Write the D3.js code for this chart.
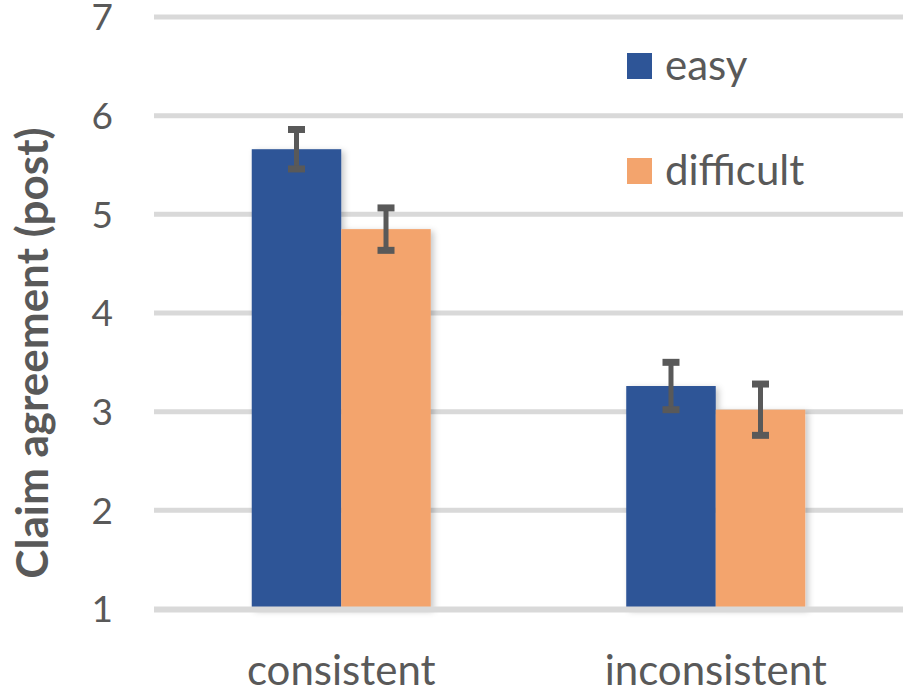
<!DOCTYPE html>
<html><head><meta charset="utf-8">
<script src="https://cdn.jsdelivr.net/npm/d3@7"></script>
<style>body{margin:0;background:#fff}svg{display:block}text{font-family:Lato,"Open Sans",sans-serif;fill:#595959}</style>
</head><body>
<svg id="chart" width="909" height="693"></svg>
<script>
const categories = ["consistent", "inconsistent"];
const seriesNames = ["easy", "difficult"];
const easyValues = [5.66, 3.26];
const difficultValues = [4.85, 3.02];
const easyErrors = [0.20, 0.24];
const difficultErrors = [0.215, 0.26];
const yTicks = [1, 2, 3, 4, 5, 6, 7];
const colors = ["#2E5597", "#F3A46D"];

const svg = d3.select("#chart");
const defs = svg.append("defs");
const f = defs.append("filter").attr("id","sh").attr("x","-20%").attr("y","-20%").attr("width","150%").attr("height","150%");
f.append("feDropShadow").attr("dx",3).attr("dy",2).attr("stdDeviation",3).attr("flood-color","#000").attr("flood-opacity",0.22);

const y = d3.scaleLinear().domain([1,7]).range([609,17]);
const x = d3.scaleBand().domain(categories).range([154,903]).padding(0);
const xs = d3.scaleBand().domain(seriesNames).range([0,x.bandwidth()]).paddingInner(0).paddingOuter(1.092);
const color = d3.scaleOrdinal().domain(seriesNames).range(colors);

const data = [];
categories.forEach((c,i)=>{
  data.push({cat:c, s:"easy", v:easyValues[i], e:easyErrors[i]});
  data.push({cat:c, s:"difficult", v:difficultValues[i], e:difficultErrors[i]});
});

// gridlines
svg.append("g").selectAll("line").data(yTicks.filter(t=>t>1)).join("line")
  .attr("x1",154).attr("x2",903).attr("y1",d=>y(d)).attr("y2",d=>y(d))
  .attr("stroke","#d9d9d9").attr("stroke-width",5);

// bars
svg.append("g").attr("filter","url(#sh)").selectAll("rect").data(data).join("rect")
  .attr("x",d=>x(d.cat)+xs(d.s)).attr("width",xs.bandwidth())
  .attr("y",d=>y(d.v)).attr("height",d=>y(1)-y(d.v))
  .attr("fill",d=>color(d.s));

// baseline
svg.append("line").attr("x1",154).attr("x2",903).attr("y1",y(1)+0.5).attr("y2",y(1)+0.5)
  .attr("stroke","#d9d9d9").attr("stroke-width",6);

// error bars
const eg = svg.append("g").attr("stroke","#595959");
data.forEach(d=>{
  const cx = x(d.cat)+xs(d.s)+xs.bandwidth()/2;
  eg.append("line").attr("x1",cx).attr("x2",cx).attr("y1",y(d.v+d.e)).attr("y2",y(d.v-d.e)).attr("stroke-width",5);
  [d.v+d.e, d.v-d.e].forEach(val=>{
    eg.append("line").attr("x1",cx-8.5).attr("x2",cx+8.5).attr("y1",y(val)).attr("y2",y(val)).attr("stroke-width",7);
  });
});

// y tick labels
svg.append("g").selectAll("text").data(yTicks).join("text")
  .attr("x",113).attr("y",d=>y(d)).attr("dy","0.36em").attr("text-anchor","end")
  .attr("font-size",37).text(d=>d);

// x labels
svg.append("g").selectAll("text").data(categories).join("text")
  .attr("x",d=>x(d)+x.bandwidth()/2).attr("y",685).attr("text-anchor","middle")
  .attr("font-size",42).text(d=>d);

// y title
svg.append("text").attr("transform","translate(48,353) rotate(-90)")
  .attr("text-anchor","middle").attr("font-size",44).attr("font-weight","bold")
  .text("Claim agreement (post)");

// legend
const lg = svg.append("g").selectAll("g").data(seriesNames).join("g")
  .attr("transform",(d,i)=>`translate(627,${53+i*105})`);
lg.append("rect").attr("width",25).attr("height",26).attr("fill",d=>color(d));
lg.append("text").attr("x",38).attr("y",27).attr("font-size",42).text(d=>d);
</script>
</body></html>
